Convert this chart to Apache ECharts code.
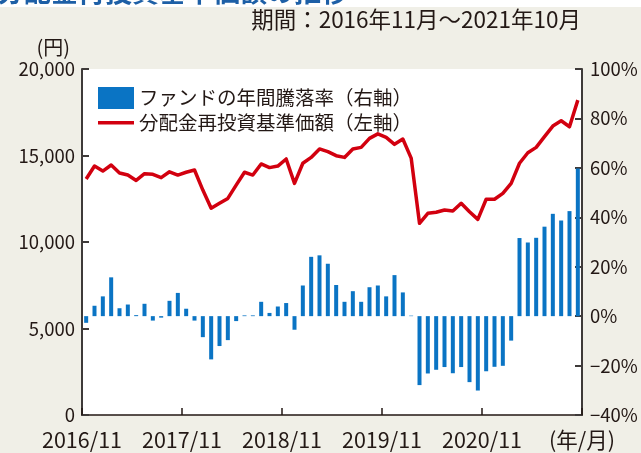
<!DOCTYPE html>
<html>
<head>
<meta charset="utf-8">
<script src="https://cdn.jsdelivr.net/npm/echarts@6/dist/echarts.min.js"></script>
<style>
html, body { margin: 0; padding: 0; background: #f0efe7; }
#chart { width: 641px; height: 453px; }
</style>
</head>
<body>
<div id="chart"></div>
<script>
// monthly categories 2016/11 .. 2021/10
var months = [];
for (var i = 0; i < 60; i++) {
    var m = 10 + i;
    months.push((2016 + Math.floor(m / 12)) + '/' + (m % 12 + 1));
}

// 分配金再投資基準価額 (円)
var navValues = [
    13640, 14390, 14100, 14450, 13990, 13870, 13560, 13950, 13910, 13720, 14060, 13870,
    14030, 14160, 13000, 11950, 12240, 12520, 13290, 14030, 13870, 14510, 14300, 14390,
    14800, 13390, 14550, 14890, 15380, 15220, 14990, 14890, 15380, 15470, 15990, 16250,
    16050, 15645, 15950, 14850, 11080, 11660, 11720, 11850, 11790, 12240, 11750, 11310,
    12470, 12470, 12810, 13390, 14550, 15160, 15470, 16090, 16700, 17010, 16660, 18200
];

// ファンドの年間騰落率 (%)
var yearlyReturn = [
    -2.7, 4.2, 8.0, 15.7, 3.2, 4.7, 0.4, 5.0, -1.8, -0.6, 6.2, 9.4,
    3.0, -1.8, -8.5, -17.5, -12.1, -9.7, -2.0, 0.3, 0.3, 5.8, 1.3, 3.9,
    5.3, -5.5, 12.4, 24.0, 24.6, 21.2, 12.6, 5.8, 10.1, 5.8, 11.7, 12.4,
    8.0, 16.6, 9.6, 0.2, -27.9, -23.2, -21.7, -20.6, -23.1, -20.6, -26.7, -30.1,
    -22.3, -20.5, -20.1, -9.9, 31.6, 29.8, 31.7, 36.2, 41.4, 38.7, 42.5, 59.7
];

var xTickLabels = ['2016/11', '2017/11', '2018/11', '2019/11', '2020/11', '(年/月)'];

var textColor = '#231815';
var axisColor = '#3e3a39';
var cjk = "'Noto Sans CJK JP', 'Noto Sans', sans-serif";

var chart = echarts.init(document.getElementById('chart'));
var option = {
    backgroundColor: '#f0efe7',
    animation: false,
    textStyle: { fontFamily: cjk, color: textColor },
    grid: {
        left: 82, right: 59, top: 69, bottom: 38,
        show: true, backgroundColor: '#ffffff', borderWidth: 0
    },
    legend: {
        orient: 'vertical',
        left: 93, top: 82,
        itemWidth: 36, itemHeight: 22, itemGap: 4,
        textStyle: { fontSize: 19.5, color: textColor, fontFamily: cjk },
        data: [
            { name: 'ファンドの年間騰落率（右軸）', icon: 'rect' },
            { name: '分配金再投資基準価額（左軸）', icon: 'path://M0,0H36V3.5H0Z' }
        ]
    },
    graphic: [
        { type: 'rect', left: 0, top: 0, shape: { width: 641, height: 7 }, style: { fill: '#ffffff' }, z: -1 },
        {
            type: 'text', left: -3, top: -22,
            style: { text: '分配金再投資基準価額の推移', font: 'bold 27px ' + cjk, fill: '#1d5fa6' }
        },
        {
            type: 'text', right: 60, top: 8,
            style: { text: '期間：2016年11月～2021年10月', font: '22.5px ' + cjk, fill: textColor }
        }
    ],
    xAxis: [
        {
            type: 'category',
            data: months,
            boundaryGap: true,
            axisLine: { show: false },
            axisTick: { show: false },
            axisLabel: { show: false }
        },
        {
            type: 'value',
            position: 'bottom',
            min: 0, max: 60, interval: 12,
            axisLine: { show: true, onZero: false, lineStyle: { color: textColor, width: 1.5 } },
            axisTick: { show: true, inside: true, length: 7, lineStyle: { color: textColor, width: 1.5 } },
            splitLine: { show: false },
            axisLabel: {
                margin: 14, fontSize: 21.5, color: textColor, fontFamily: cjk,
                showMinLabel: true, showMaxLabel: true,
                formatter: function (v) { return xTickLabels[Math.round(v / 12)]; }
            }
        }
    ],
    yAxis: [
        {
            type: 'value',
            min: 0, max: 20000, interval: 5000,
            name: '(円)',
            nameLocation: 'end',
            nameGap: 12,
            nameTextStyle: { fontSize: 20, color: textColor, fontFamily: cjk, align: 'right', padding: [0, 12, 0, 0] },
            axisLine: { show: true, onZero: false, lineStyle: { color: axisColor, width: 2 } },
            axisTick: { show: true, inside: true, length: 7, lineStyle: { color: axisColor, width: 2 } },
            splitLine: { show: false },
            axisLabel: {
                margin: 7, fontSize: 18.5, color: textColor, fontFamily: cjk,
                formatter: function (v) { return v.toLocaleString('en-US'); }
            }
        },
        {
            type: 'value',
            position: 'right',
            min: -40, max: 100, interval: 20,
            axisLine: { show: true, onZero: false, lineStyle: { color: axisColor, width: 2 } },
            axisTick: { show: true, inside: true, length: 7, lineStyle: { color: axisColor, width: 2 } },
            splitLine: { show: false },
            axisLabel: {
                margin: 8, fontSize: 18.5, color: textColor, fontFamily: cjk,
                formatter: function (v) { return (v < 0 ? '\u2212' + (-v) : v) + '%'; }
            }
        }
    ],
    series: [
        {
            name: 'ファンドの年間騰落率（右軸）',
            type: 'bar',
            xAxisIndex: 0,
            yAxisIndex: 1,
            barWidth: 4,
            itemStyle: { color: '#0a74c4' },
            data: yearlyReturn
        },
        {
            name: '分配金再投資基準価額（左軸）',
            type: 'line',
            xAxisIndex: 0,
            yAxisIndex: 0,
            symbol: 'none',
            lineStyle: { color: '#d2000f', width: 3.5, join: 'round' },
            itemStyle: { color: '#d2000f' },
            z: 3,
            data: navValues
        }
    ]
};
chart.setOption(option);
</script>
</body>
</html>
